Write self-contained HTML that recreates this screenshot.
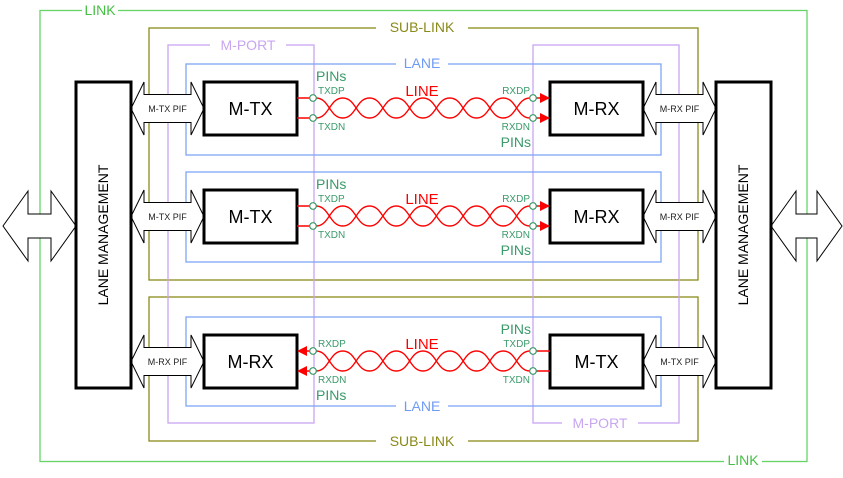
<!DOCTYPE html>
<html><head><style>body{margin:0;background:#fff}svg{display:block}</style></head><body>
<svg id="s" width="843" height="478" xmlns="http://www.w3.org/2000/svg" font-family="Liberation Sans, sans-serif">
<rect width="843" height="478" fill="#fff"/>
<g fill="none">
<rect x="40" y="10.5" width="767" height="451" stroke="#66d466" stroke-width="1.3"/>
<rect x="149" y="28" width="549" height="252" stroke="#8a8a1a" stroke-width="1.3"/>
<rect x="149" y="297" width="549" height="144" stroke="#8a8a1a" stroke-width="1.3"/>
<rect x="168" y="45" width="146" height="378" stroke="#c9a6f0" stroke-width="1.3"/>
<rect x="533" y="45" width="146" height="378" stroke="#c9a6f0" stroke-width="1.3"/>
<rect x="186" y="64" width="475" height="91" stroke="#7fa6f5" stroke-width="1.3"/>
<rect x="186" y="172" width="475" height="90" stroke="#7fa6f5" stroke-width="1.3"/>
<rect x="186" y="317" width="475" height="89" stroke="#7fa6f5" stroke-width="1.3"/>
</g>
<g font-size="14" text-anchor="middle">
<rect x="82" y="3" width="36" height="14" fill="#fff"/><text x="100" y="15" fill="#44c044">LINK</text>
<rect x="724" y="454" width="38" height="14" fill="#fff"/><text x="743" y="465" fill="#44c044">LINK</text>
<rect x="376" y="21" width="92" height="14" fill="#fff"/><text x="422" y="32" fill="#8a8a1a">SUB-LINK</text>
<rect x="376" y="434" width="92" height="14" fill="#fff"/><text x="422" y="446" fill="#8a8a1a">SUB-LINK</text>
<rect x="210" y="38" width="76" height="14" fill="#fff"/><text x="248" y="50" fill="#c9a6f0">M-PORT</text>
<rect x="562" y="416" width="76" height="14" fill="#fff"/><text x="600" y="428" fill="#c9a6f0">M-PORT</text>
<rect x="396" y="57" width="52" height="14" fill="#fff"/><text x="422" y="68" fill="#6f9af5">LANE</text>
<rect x="396" y="399" width="52" height="14" fill="#fff"/><text x="422" y="411" fill="#6f9af5">LANE</text>
</g>
<g id="dyn"></g>
<g stroke="#000" stroke-width="3" fill="#fff">
<rect x="76" y="82" width="55" height="306"/>
<rect x="716" y="82" width="55" height="306"/>
</g>
<g font-size="14" fill="#000">
<text transform="translate(108,235) rotate(-90)" text-anchor="middle">LANE MANAGEMENT</text>
<text transform="translate(748,235) rotate(-90)" text-anchor="middle">LANE MANAGEMENT</text>
</g>
</svg>
<script>
const ns="http://www.w3.org/2000/svg",g=document.getElementById('dyn');
function el(t,a,txt){const e=document.createElementNS(ns,t);for(const k in a)e.setAttribute(k,a[k]);if(txt)e.textContent=txt;g.appendChild(e);return e;}
function bigArrow(x1,x2,cy){const h=35,s=12,hw=25;
el('polygon',{points:`${x1},${cy} ${x1+hw},${cy-h} ${x1+hw},${cy-s} ${x2-hw},${cy-s} ${x2-hw},${cy-h} ${x2},${cy} ${x2-hw},${cy+h} ${x2-hw},${cy+s} ${x1+hw},${cy+s} ${x1+hw},${cy+h}`,fill:'#fff',stroke:'#000','stroke-width':1});}
bigArrow(3,76,226);bigArrow(771,842,226);
function pif(x1,x2,y0,label){const cy=y0+26.5,h=26.5,s=14,hw=13;
el('polygon',{points:`${x1},${cy} ${x1+hw},${cy-h} ${x1+hw},${cy-s} ${x2-hw},${cy-s} ${x2-hw},${cy-h} ${x2},${cy} ${x2-hw},${cy+h} ${x2-hw},${cy+s} ${x1+hw},${cy+s} ${x1+hw},${cy+h}`,fill:'#fff',stroke:'#000','stroke-width':1});
el('text',{x:(x1+x2)/2,y:cy+3.5,'font-size':'9','text-anchor':'middle',fill:'#222'},label);}
function box(x,y,t){el('rect',{x:x,y:y,width:93,height:53,fill:'#fff',stroke:'#000','stroke-width':3});
el('text',{x:x+46.5,y:y+33,'font-size':'18','text-anchor':'middle',fill:'#000'},t);}
function twist(y1,y2){const xa=316,xb=530,n=8,w=(xb-xa)/n;let p1=`M${xa},${y1}`,p2=`M${xa},${y2}`;
for(let i=0;i<n;i++){const a=xa+i*w,b=a+w,ya=i%2?y2:y1,yb=i%2?y1:y2,za=i%2?y1:y2,zb=i%2?y2:y1;
p1+=` C${a+w/2},${ya} ${a+w/2},${yb} ${b},${yb}`;p2+=` C${a+w/2},${za} ${a+w/2},${zb} ${b},${zb}`;}
el('path',{d:p1,fill:'none',stroke:'red','stroke-width':1.4});el('path',{d:p2,fill:'none',stroke:'red','stroke-width':1.4});}
const G='#3a9a6a';
function row(y,rev){const y1=y+16,y2=y+36;
twist(y1,y2);
el('text',{x:422,y:y+14,'font-size':'15','text-anchor':'middle',fill:'red'},'LINE');
if(!rev){pif(131,204,y,'M-TX PIF');pif(643,716,y,'M-RX PIF');box(204,y,'M-TX');box(550,y,'M-RX');
[y1,y2].forEach(v=>{el('line',{x1:297,y1:v,x2:313,y2:v,stroke:'red','stroke-width':1.5});
el('line',{x1:533,y1:v,x2:541,y2:v,stroke:'red','stroke-width':1.5});
el('polygon',{points:`${540},${v-5} ${550},${v} ${540},${v+5}`,fill:'red'});});
el('text',{x:316,y:y-1,'font-size':'14',fill:G},'PINs');el('text',{x:318,y:y1-4,'font-size':'10',fill:G},'TXDP');
el('text',{x:318,y:y2+12,'font-size':'10',fill:G},'TXDN');
el('text',{x:530,y:y1-4,'font-size':'10',fill:G,'text-anchor':'end'},'RXDP');
el('text',{x:530,y:y2+12,'font-size':'10',fill:G,'text-anchor':'end'},'RXDN');
el('text',{x:531,y:y2+29,'font-size':'14',fill:G,'text-anchor':'end'},'PINs');}
else{pif(131,204,y,'M-RX PIF');pif(643,716,y,'M-TX PIF');box(204,y,'M-RX');box(550,y,'M-TX');
[y1,y2].forEach(v=>{el('line',{x1:533,y1:v,x2:550,y2:v,stroke:'red','stroke-width':1.5});
el('line',{x1:305,y1:v,x2:313,y2:v,stroke:'red','stroke-width':1.5});
el('polygon',{points:`${307},${v-5} ${297},${v} ${307},${v+5}`,fill:'red'});});
el('text',{x:531,y:y-1,'font-size':'14',fill:G,'text-anchor':'end'},'PINs');
el('text',{x:530,y:y1-4,'font-size':'10',fill:G,'text-anchor':'end'},'TXDP');
el('text',{x:530,y:y2+12,'font-size':'10',fill:G,'text-anchor':'end'},'TXDN');
el('text',{x:318,y:y1-4,'font-size':'10',fill:G},'RXDP');el('text',{x:318,y:y2+12,'font-size':'10',fill:G},'RXDN');
el('text',{x:316,y:y2+29,'font-size':'14',fill:G},'PINs');}
[313,533].forEach(x=>[y1,y2].forEach(v=>el('circle',{cx:x,cy:v,r:3.3,fill:'#fff',stroke:G,'stroke-width':1.2})));}
row(82,false);row(190,false);row(335,true);
</script>
</body></html>
